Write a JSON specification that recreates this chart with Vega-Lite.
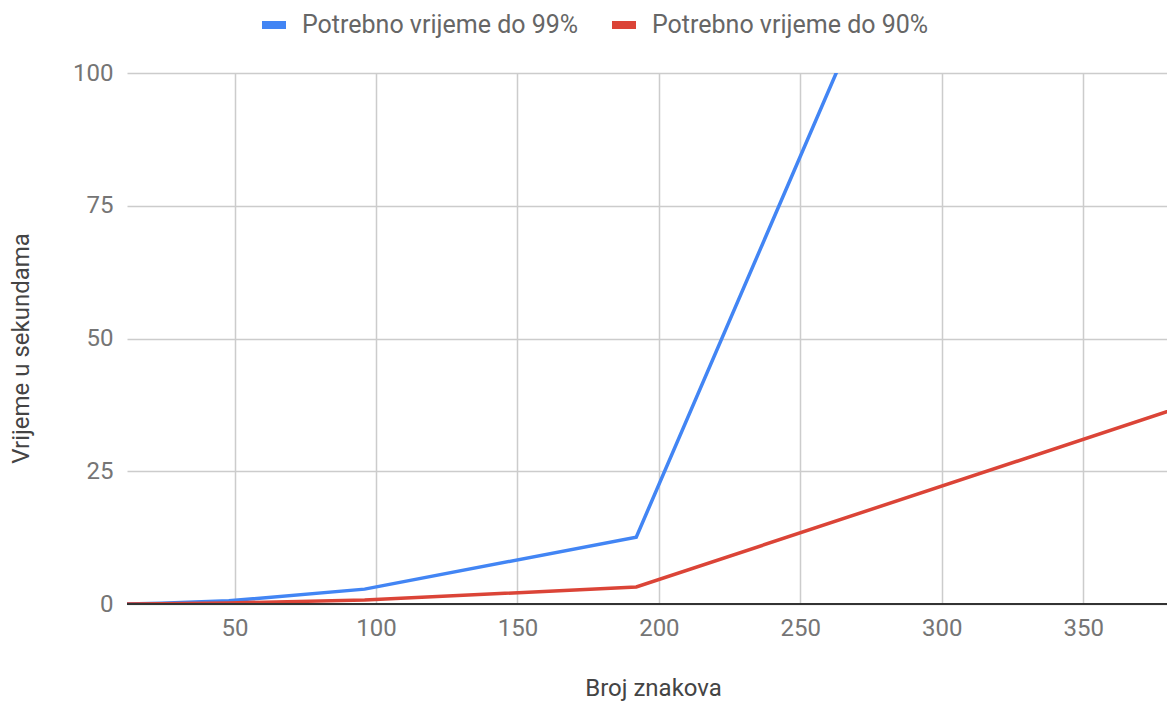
{
  "$schema": "https://vega.github.io/schema/vega-lite/v6.json",
  "autosize": "none",
  "width": 1040,
  "height": 531,
  "padding": {"left": 127, "top": 73, "right": 0, "bottom": 98},
  "background": "white",
  "config": {
    "view": {"stroke": null},
    "font": "Roboto"
  },
  "data": {
    "values": [
      {"series": "Potrebno vrijeme do 99%", "znakova": 12, "vrijeme": 0.0},
      {"series": "Potrebno vrijeme do 99%", "znakova": 24, "vrijeme": 0.15},
      {"series": "Potrebno vrijeme do 99%", "znakova": 48, "vrijeme": 0.6},
      {"series": "Potrebno vrijeme do 99%", "znakova": 96, "vrijeme": 2.8},
      {"series": "Potrebno vrijeme do 99%", "znakova": 192, "vrijeme": 12.6},
      {"series": "Potrebno vrijeme do 99%", "znakova": 384, "vrijeme": 250},
      {"series": "Potrebno vrijeme do 90%", "znakova": 12, "vrijeme": 0.0},
      {"series": "Potrebno vrijeme do 90%", "znakova": 24, "vrijeme": 0.05},
      {"series": "Potrebno vrijeme do 90%", "znakova": 48, "vrijeme": 0.2},
      {"series": "Potrebno vrijeme do 90%", "znakova": 96, "vrijeme": 0.75},
      {"series": "Potrebno vrijeme do 90%", "znakova": 192, "vrijeme": 3.2},
      {"series": "Potrebno vrijeme do 90%", "znakova": 384, "vrijeme": 37.0}
    ]
  },
  "layer": [
    {
      "mark": {"type": "line", "strokeWidth": 3.5, "clip": true},
      "encoding": {
        "x": {
          "field": "znakova", "type": "quantitative",
          "scale": {"domain": [12, 379.6], "nice": false, "zero": false},
          "axis": {
            "title": "Broj znakova",
            "values": [50, 100, 150, 200, 250, 300, 350],
            "grid": true, "gridColor": "#cccccc", "gridWidth": 1.5,
            "domain": false, "ticks": false,
            "labelFont": "Roboto", "labelFontSize": 24, "labelColor": "#757575",
            "labelPadding": 12,
            "titleFont": "Roboto", "titleFontSize": 24, "titleColor": "#444444",
            "titleFontWeight": "normal",
            "titleX": 526, "titleY": 84, "titleBaseline": "middle", "titleAnchor": "middle"
          }
        },
        "y": {
          "field": "vrijeme", "type": "quantitative",
          "scale": {"domain": [0, 100], "nice": false},
          "axis": {
            "title": "Vrijeme u sekundama",
            "values": [0, 25, 50, 75, 100],
            "grid": true, "gridColor": "#cccccc", "gridWidth": 1.5,
            "domain": false, "ticks": false,
            "labelFont": "Roboto", "labelFontSize": 24, "labelColor": "#757575",
            "labelPadding": 14,
            "titleFont": "Roboto", "titleFontSize": 24, "titleColor": "#444444",
            "titleFontWeight": "normal",
            "titleX": -106, "titleY": 275, "titleAngle": -90,
            "titleBaseline": "middle", "titleAnchor": "middle"
          }
        },
        "color": {
          "field": "series", "type": "nominal",
          "scale": {
            "domain": ["Potrebno vrijeme do 99%", "Potrebno vrijeme do 90%"],
            "range": ["#4285F4", "#DB4437"]
          },
          "legend": {
            "title": null,
            "orient": "none",
            "direction": "horizontal",
            "legendX": 131,
            "legendY": -64,
            "symbolType": "stroke",
            "symbolSize": 576,
            "symbolStrokeWidth": 8,
            "labelFont": "Roboto",
            "labelFontSize": 25,
            "labelColor": "#666666",
            "labelOffset": 12,
            "columnPadding": 17,
            "labelLimit": 400
          }
        }
      }
    },
    {
      "mark": {"type": "rule", "color": "#333333", "strokeWidth": 2},
      "encoding": {"y": {"datum": 0}}
    }
  ]
}
